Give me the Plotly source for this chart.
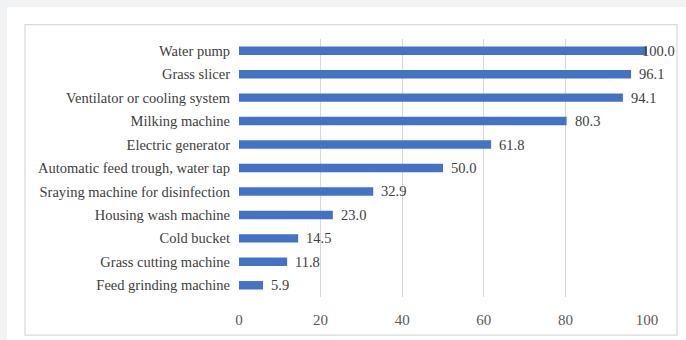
import plotly.graph_objects as go

categories = [
    "Water pump",
    "Grass slicer",
    "Ventilator or cooling system",
    "Milking machine",
    "Electric generator",
    "Automatic feed trough, water tap",
    "Sraying machine for disinfection",
    "Housing wash machine",
    "Cold bucket",
    "Grass cutting machine",
    "Feed grinding machine",
]
values = [100.0, 96.1, 94.1, 80.3, 61.8, 50.0, 32.9, 23.0, 14.5, 11.8, 5.9]
x_ticks = [0, 20, 40, 60, 80, 100]

W, H = 686, 340
L, R, T, B = 239, 39, 39, 41
pw, ph = W - L - R, H - T - B

def px_x(px):
    return (px - L) / pw

def px_y(py):
    return 1 - (py - T) / ph

FONT = "'Liberation Serif', 'Times New Roman', 'DejaVu Serif', serif"

fig = go.Figure()
fig.add_trace(go.Bar(
    x=values,
    y=categories,
    orientation="h",
    marker=dict(color="#4472C4", line=dict(width=0)),
    width=0.36,
    hoverinfo="x+y",
))

for v, c in zip(values, categories):
    fig.add_annotation(
        x=v, y=c, xref="x", yref="y",
        text=f"{v:.1f}",
        showarrow=False,
        xanchor="left",
        xshift=6 if v < 99 else -7,
        font=dict(family=FONT, size=14.5, color="#404040"),
    )

# page background card and chart border
fig.add_shape(type="rect", xref="paper", yref="paper",
              x0=px_x(7), x1=px_x(W + 5), y0=px_y(H + 5), y1=px_y(7),
              fillcolor="white", line=dict(width=0), layer="below")
fig.add_shape(type="rect", xref="paper", yref="paper",
              x0=px_x(25), x1=px_x(677), y0=px_y(337.5), y1=px_y(24.5),
              fillcolor="rgba(0,0,0,0)", line=dict(color="#dadada", width=1.2), layer="below")

fig.update_layout(
    width=W, height=H,
    margin=dict(l=L, r=R, t=T, b=B),
    paper_bgcolor="#f1f2f4",
    plot_bgcolor="white",
    showlegend=False,
    bargap=0.6,
    font=dict(family=FONT, size=14.5, color="#404040"),
    xaxis=dict(
        range=[0, 100],
        tickvals=x_ticks,
        ticktext=[str(t) for t in x_ticks],
        showgrid=True,
        gridcolor="#d9d9d9",
        gridwidth=1,
        zeroline=False,
        showline=False,
        ticks="",
        ticklabelstandoff=12,
        tickfont=dict(family=FONT, size=15, color="#595959"),
        fixedrange=True,
    ),
    yaxis=dict(
        categoryorder="array",
        categoryarray=categories[::-1],
        showgrid=False,
        zeroline=False,
        showline=False,
        ticks="",
        ticklabelstandoff=8,
        tickfont=dict(family=FONT, size=14.5, color="#404040"),
        fixedrange=True,
    ),
)

fig.write_html("out.html")
